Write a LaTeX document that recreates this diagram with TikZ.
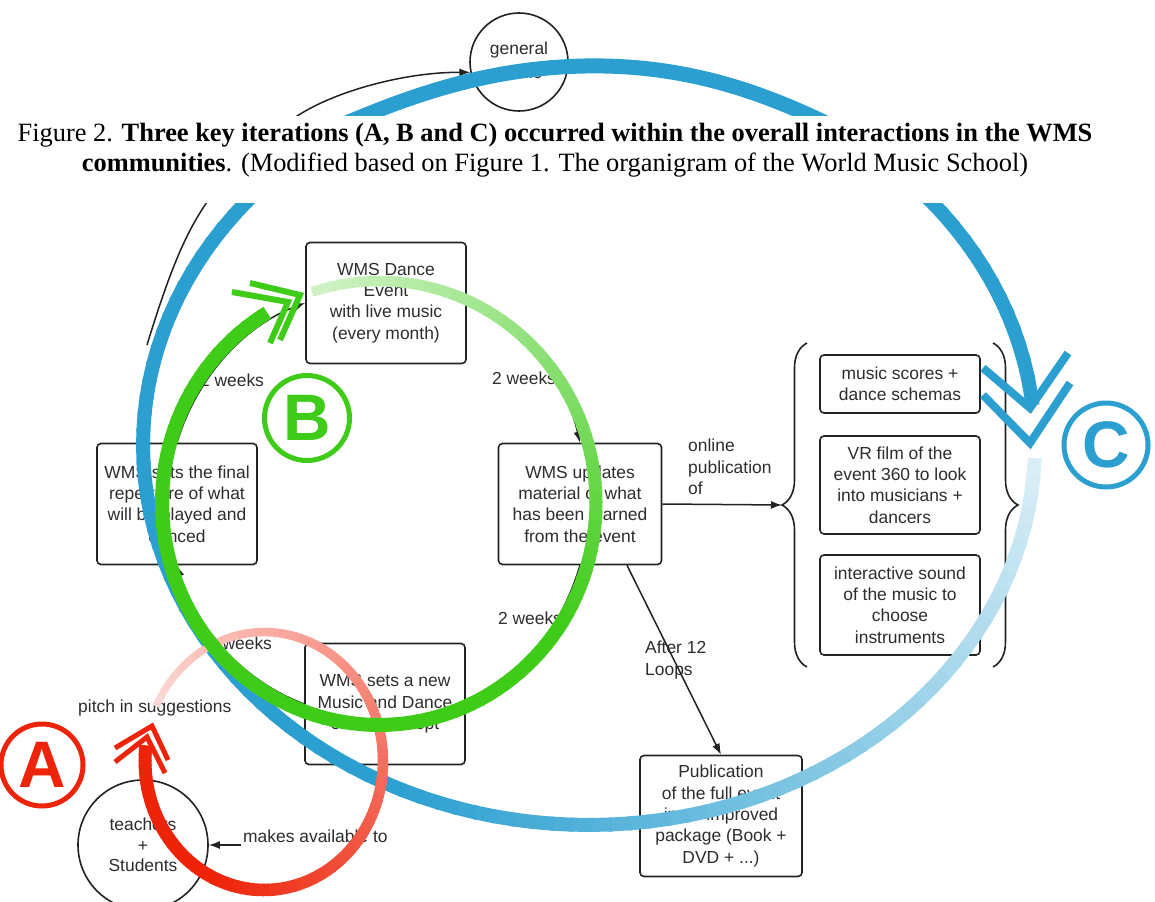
\documentclass[tikz,border=0pt]{standalone}
\usepackage{fontspec}
\setmainfont{Liberation Serif}
\newfontfamily\arialf{Liberation Sans}
\usetikzlibrary{arrows.meta,decorations.pathreplacing,calc}
\definecolor{blueC}{RGB}{42,159,208}
\definecolor{greenC}{RGB}{62,204,24}
\definecolor{redC}{RGB}{238,36,10}
\definecolor{inkC}{RGB}{34,34,34}
\definecolor{txtC}{RGB}{45,45,45}
\begin{document}
\begin{tikzpicture}[x=1bp,y=-1bp,
  boxst/.style={draw=inkC, line width=1.6bp, rounded corners=4bp, minimum width=160bp, minimum height=121bp, align=center, font=\arialf\fontsize{17.5}{21.5}\selectfont, text=txtC, inner sep=0pt},
  lbl/.style={font=\arialf\fontsize{17.5}{21.5}\selectfont, text=txtC, inner sep=0pt},
  conn/.style={draw=inkC, line width=1.5bp, -{Latex[length=11bp,width=8bp]}},
  chev/.style={line width=#1, line cap=butt, line join=miter},
  bigletter/.style={circle, line width=5bp, inner sep=0pt, font=\arialf\bfseries\fontsize{66}{66}\selectfont},
  capst/.style={font=\fontsize{26.5}{30}\selectfont, anchor=base, inner sep=0pt}
]
\useasboundingbox (0,0) rectangle (1155,902);
\fill[white] (0,0) rectangle (1155,902);

% ---------- black diagram ----------
\node[boxst] (dance) at (386,303) {WMS Dance\\Event\\with live music\\(every month)};
\node[boxst] (rep) at (177,504) {WMS sets the final\\repertoire of what\\will be played and\\danced};
\node[boxst, minimum width=163bp] (upd) at (580,504) {WMS updates\\material of what\\has been learned\\from the event};
\node[boxst] (new) at (385,704) {WMS sets a new\\Music and Dance\\event concept};
\node[boxst, minimum height=58bp] (r1) at (900,384) {music scores +\\dance schemas};
\node[boxst, minimum height=98bp] (r2) at (900,485) {VR film of the\\event 360 to look\\into musicians +\\dancers};
\node[boxst, minimum height=100bp] (r3) at (900,605) {interactive sound\\of the music to\\choose\\instruments};
\node[boxst, minimum width=162bp] (pub) at (721,816) {Publication\\of the full event\\in an improved\\package (Book +\\DVD + ...)};

\node[circle, draw=inkC, line width=1.6bp, minimum size=98bp, align=center, lbl, font=\arialf\fontsize{17.5}{24}\selectfont, inner sep=0pt] (gp) at (519,62) {general\\public};
\node[circle, draw=inkC, line width=1.6bp, minimum size=130bp, align=center, lbl, font=\arialf\fontsize{17.5}{20.5}\selectfont] (ts) at (143,845) {teachers\\+\\Students};

% braces
\draw[inkC, line width=1.6bp, decorate, decoration={brace, amplitude=25bp}] (807,667) -- (807,343);
\draw[inkC, line width=1.6bp, decorate, decoration={brace, amplitude=25bp}] (993,343) -- (993,667);
\coordinate (lbtip) at (782,505);

% connectors (arcs of the 2-week cycle)
\draw[conn] (rep.north) .. controls (196,379) and (243,326) .. (dance.west);
\draw[conn] (dance.east) .. controls (524,328) and (566,382) .. (upd.north);
\draw[conn] (upd.south) .. controls (562,625) and (524,679) .. (new.east);
\draw[conn] (new.west) .. controls (243,681) and (197,629) .. (rep.south);
\draw[conn] (upd.east) -- (lbtip);
\draw[conn] ($(upd.south)+(47,0)$) -- (pub.north);

\node[lbl] (w1) at (232,380) {2 weeks};
\node[lbl] (w2) at (524,378) {2 weeks};
\node[lbl] (w3) at (530,618) {2 weeks};
\node[lbl] (w4) at (240,643) {2 weeks};
\node[lbl, align=left, anchor=west] (onl) at (688,467) {online\\publication\\of};
\node[lbl, align=left, anchor=west] (aft) at (645,660) {After 12\\Loops};
\node[lbl, anchor=west] (mk) at (243,836) {makes available to};
\coordinate (mkstart) at (241,845);
\draw[conn] (mkstart) -- (ts.east);
\node[lbl, anchor=west] (pitch) at (78,708) {pitch in suggestions};

\coordinate (arcstart) at (147,345);
\draw[conn] (arcstart) .. controls (170,270) and (185,235) .. (205,205) .. controls (235,160) and (260,135) .. (285,125) .. controls (320,95) and (400,72) .. (gp.192);

% ---------- blue loop C ----------
\begin{scope}
\clip (0,116) rectangle (1155,902);
\foreach \ang in {2,4.5,...,352} {
  \pgfmathsetmacro\angb{min(\ang+3,354)}
  \pgfmathtruncatemacro\pc{min(100,18+(82/113)*(\ang-2))}
  \draw[line width=14bp, blueC!\pc!white] ({589+446*cos(\ang)},{445+380*sin(\ang)}) -- ({589+446*cos(\angb)},{445+380*sin(\angb)});
}
\end{scope}
\begin{scope}
\clip (0,0) rectangle (1155,116);
\draw[blueC, line width=15bp] (330,130) .. controls (400,100) and (480,68) .. (585,66) .. controls (690,64) and (770,95) .. (840,130);
\end{scope}
\draw[chev=8bp, blueC] (983,368) -- (1030,408) -- (1068,353);
\draw[chev=8bp, blueC] (983,395) -- (1030,443) -- (1070,383);

% ---------- red loop A ----------
\foreach \ang in {205,207.5,...,545} {
  \pgfmathsetmacro\angb{min(\ang+3,547)}
  \pgfmathtruncatemacro\pc{min(100,18+(82/265)*(\ang-205))}
  \pgfmathsetmacro\lw{7+6*min(1,(\ang-205)/265)}
  \draw[line width=\lw bp, redC!\pc!white] ({264+119*cos(\ang)},{761+129*sin(\ang)}) -- ({264+119*cos(\angb)},{761+129*sin(\angb)});
}
\draw[chev=5bp, redC] (115,748) -- (152,726) -- (168,760);
\draw[chev=5bp, redC] (115,762) -- (147,737) -- (165,773);

% ---------- green loop B ----------
\foreach \ang in {252,254.5,...,597} {
  \pgfmathsetmacro\angb{min(\ang+3,599)}
  \pgfmathtruncatemacro\pc{min(100,25+(75/140)*(\ang-252))}
  \pgfmathsetmacro\lw{10+4*min(1,(\ang-252)/140)}
  \draw[line width=\lw bp, greenC!\pc!white] ({379+217*cos(\ang)},{503+222*sin(\ang)}) -- ({379+217*cos(\angb)},{503+222*sin(\angb)});
}
\draw[chev=6bp, greenC] (250,283) -- (300,295) -- (280,340);
\draw[chev=6bp, greenC] (232,292) -- (288,302) -- (270,343);

% ---------- letters ----------
\node[bigletter, draw=redC, text=redC, minimum size=82bp] (la) at (42,765) {A};
\node[bigletter, draw=greenC, text=greenC, minimum size=85bp] (lb) at (307,418) {B};
\node[bigletter, draw=blueC, text=blueC, minimum size=84bp] (lc) at (1106,445) {C};

% ---------- caption band ----------
\fill[white] (0,116) rectangle (1155,203);
\node[capst] (cap1) at (555,141.7) {Figure 2. \textbf{Three key iterations (A, B and C) occurred within the overall interactions in the WMS}};
\node[capst] (cap2) at (555,171.7) {\textbf{communities}. (Modified based on Figure 1. The organigram of the World Music School)};
\end{tikzpicture}
\end{document}
